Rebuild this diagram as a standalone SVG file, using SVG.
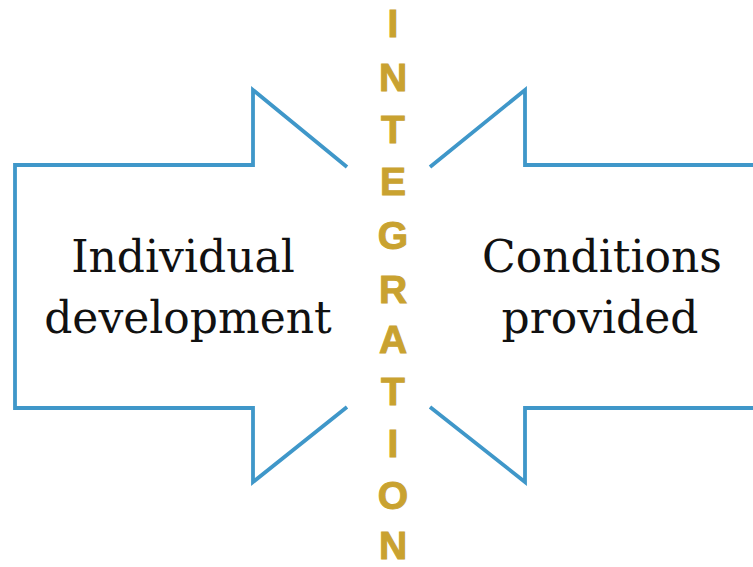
<svg xmlns="http://www.w3.org/2000/svg" width="753" height="567" viewBox="0 0 753 567">
  <style>
    .outline { fill: none; stroke: #3f97c9; stroke-width: 3.8; stroke-linejoin: miter; stroke-linecap: butt; }
    .label { font-family: "DejaVu Serif", "Liberation Serif", serif; font-size: 44px; fill: #111; text-anchor: middle; }
    .word { font-family: "Liberation Sans", Arial, sans-serif; font-weight: bold; font-size: 39px; fill: #c9a230; stroke: #c9a230; stroke-width: 1; text-anchor: middle; }
  </style>
  <rect width="753" height="567" fill="#ffffff"/>

  <g id="connectors">
    <!-- left block arrow, head opening toward the centre column -->
    <polyline class="outline" points="347,167 253,90 253,165 15,165 15,408 253,408 253,482 347,407"/>
    <!-- right block arrow, mirrored, running off the right edge -->
    <polyline class="outline" points="430,167 525,90 525,165 760,165"/>
    <polyline class="outline" points="430,407 525,482 525,408 760,408"/>
  </g>

  <g id="individual-development">
    <text class="label" x="183" y="272">Individual</text>
    <text class="label" x="188" y="333">development</text>
  </g>

  <g id="conditions-provided">
    <text class="label" x="602" y="272">Conditions</text>
    <text class="label" x="600" y="333">provided</text>
  </g>

  <g id="integration">
    <text class="word" x="393" y="37">I</text>
    <text class="word" x="393" y="91">N</text>
    <text class="word" x="393" y="143">T</text>
    <text class="word" x="393" y="195">E</text>
    <text class="word" x="393" y="249">G</text>
    <text class="word" x="393" y="303">R</text>
    <text class="word" x="393" y="353">A</text>
    <text class="word" x="393" y="405">T</text>
    <text class="word" x="393" y="457">I</text>
    <text class="word" x="393" y="509">O</text>
    <text class="word" x="393" y="559">N</text>
  </g>
</svg>
